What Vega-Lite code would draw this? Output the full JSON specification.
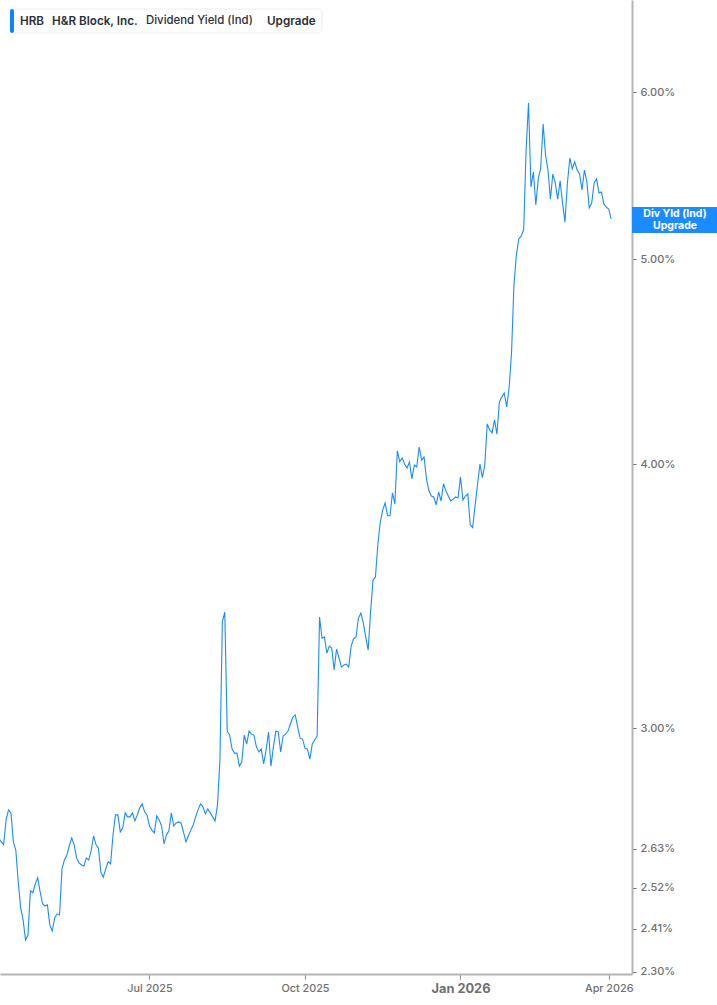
{"$schema":"https://vega.github.io/schema/vega-lite/v6.json","width":632,"height":974,"autosize":"none","padding":{"left":0,"top":0,"right":85,"bottom":31},"background":"white","config":{"view":{"stroke":null},"font":"Inter"},
"datasets":{"series":[
{"session":0,"date":"2025-04-01","yield":2.661},{"session":1,"date":"2025-04-02","yield":2.650},{"session":2,"date":"2025-04-03","yield":2.642},{"session":3,"date":"2025-04-04","yield":2.714},{"session":4,"date":"2025-04-07","yield":2.744},{"session":5,"date":"2025-04-08","yield":2.735},{"session":6,"date":"2025-04-09","yield":2.650},{"session":7,"date":"2025-04-10","yield":2.626},{"session":8,"date":"2025-04-11","yield":2.537},{"session":9,"date":"2025-04-14","yield":2.466},{"session":10,"date":"2025-04-15","yield":2.434},{"session":11,"date":"2025-04-16","yield":2.381},{"session":12,"date":"2025-04-17","yield":2.394},{"session":13,"date":"2025-04-21","yield":2.512},{"session":14,"date":"2025-04-22","yield":2.507},{"session":15,"date":"2025-04-23","yield":2.531},{"session":16,"date":"2025-04-24","yield":2.548},{"session":17,"date":"2025-04-25","yield":2.510},{"session":18,"date":"2025-04-28","yield":2.477},{"session":19,"date":"2025-04-29","yield":2.471},{"session":20,"date":"2025-04-30","yield":2.474},
{"session":21,"date":"2025-05-01","yield":2.420},{"session":22,"date":"2025-05-02","yield":2.405},{"session":23,"date":"2025-05-05","yield":2.439},{"session":24,"date":"2025-05-06","yield":2.450},{"session":25,"date":"2025-05-07","yield":2.447},{"session":26,"date":"2025-05-08","yield":2.573},{"session":27,"date":"2025-05-09","yield":2.598},{"session":28,"date":"2025-05-12","yield":2.612},{"session":29,"date":"2025-05-13","yield":2.638},{"session":30,"date":"2025-05-14","yield":2.661},{"session":31,"date":"2025-05-15","yield":2.642},{"session":32,"date":"2025-05-16","yield":2.604},{"session":33,"date":"2025-05-19","yield":2.590},{"session":34,"date":"2025-05-20","yield":2.584},{"session":35,"date":"2025-05-21","yield":2.581},{"session":36,"date":"2025-05-22","yield":2.604},{"session":37,"date":"2025-05-23","yield":2.598},{"session":38,"date":"2025-05-27","yield":2.624},{"session":39,"date":"2025-05-28","yield":2.667},{"session":40,"date":"2025-05-29","yield":2.642},{"session":41,"date":"2025-05-30","yield":2.632},
{"session":42,"date":"2025-06-02","yield":2.564},{"session":43,"date":"2025-06-03","yield":2.550},{"session":44,"date":"2025-06-04","yield":2.573},{"session":45,"date":"2025-06-05","yield":2.593},{"session":46,"date":"2025-06-06","yield":2.587},{"session":47,"date":"2025-06-09","yield":2.670},{"session":48,"date":"2025-06-10","yield":2.729},{"session":49,"date":"2025-06-11","yield":2.729},{"session":50,"date":"2025-06-12","yield":2.679},{"session":51,"date":"2025-06-13","yield":2.690},{"session":52,"date":"2025-06-16","yield":2.735},{"session":53,"date":"2025-06-17","yield":2.723},{"session":54,"date":"2025-06-18","yield":2.723},{"session":55,"date":"2025-06-20","yield":2.735},{"session":56,"date":"2025-06-23","yield":2.711},{"session":57,"date":"2025-06-24","yield":2.729},{"session":58,"date":"2025-06-25","yield":2.750},{"session":59,"date":"2025-06-26","yield":2.762},{"session":60,"date":"2025-06-27","yield":2.738},{"session":61,"date":"2025-06-30","yield":2.729},
{"session":62,"date":"2025-07-01","yield":2.696},{"session":63,"date":"2025-07-02","yield":2.684},{"session":64,"date":"2025-07-03","yield":2.676},{"session":65,"date":"2025-07-07","yield":2.726},{"session":66,"date":"2025-07-08","yield":2.714},{"session":67,"date":"2025-07-09","yield":2.696},{"session":68,"date":"2025-07-10","yield":2.644},{"session":69,"date":"2025-07-11","yield":2.670},{"session":70,"date":"2025-07-14","yield":2.682},{"session":71,"date":"2025-07-15","yield":2.735},{"session":72,"date":"2025-07-16","yield":2.696},{"session":73,"date":"2025-07-17","yield":2.705},{"session":74,"date":"2025-07-18","yield":2.708},{"session":75,"date":"2025-07-21","yield":2.705},{"session":76,"date":"2025-07-22","yield":2.679},{"session":77,"date":"2025-07-23","yield":2.650},{"session":78,"date":"2025-07-24","yield":2.667},{"session":79,"date":"2025-07-25","yield":2.684},{"session":80,"date":"2025-07-28","yield":2.699},{"session":81,"date":"2025-07-29","yield":2.723},{"session":82,"date":"2025-07-30","yield":2.744},{"session":83,"date":"2025-07-31","yield":2.762},
{"session":84,"date":"2025-08-01","yield":2.753},{"session":85,"date":"2025-08-04","yield":2.732},{"session":86,"date":"2025-08-05","yield":2.747},{"session":87,"date":"2025-08-06","yield":2.735},{"session":88,"date":"2025-08-07","yield":2.723},{"session":89,"date":"2025-08-08","yield":2.711},{"session":90,"date":"2025-08-11","yield":2.759},{"session":91,"date":"2025-08-12","yield":2.897},{"session":92,"date":"2025-08-13","yield":3.367},{"session":93,"date":"2025-08-14","yield":3.404},{"session":94,"date":"2025-08-15","yield":2.990},{"session":95,"date":"2025-08-18","yield":2.977},{"session":96,"date":"2025-08-19","yield":2.932},{"session":97,"date":"2025-08-20","yield":2.919},{"session":98,"date":"2025-08-21","yield":2.919},{"session":99,"date":"2025-08-22","yield":2.878},{"session":100,"date":"2025-08-25","yield":2.891},{"session":101,"date":"2025-08-26","yield":2.977},{"session":102,"date":"2025-08-27","yield":2.948},{"session":103,"date":"2025-08-28","yield":2.990},{"session":104,"date":"2025-08-29","yield":2.980},
{"session":105,"date":"2025-09-02","yield":2.977},{"session":106,"date":"2025-09-03","yield":2.939},{"session":107,"date":"2025-09-04","yield":2.923},{"session":108,"date":"2025-09-05","yield":2.932},{"session":109,"date":"2025-09-08","yield":2.885},{"session":110,"date":"2025-09-09","yield":2.929},{"session":111,"date":"2025-09-10","yield":2.987},{"session":112,"date":"2025-09-11","yield":2.878},{"session":113,"date":"2025-09-12","yield":2.939},{"session":114,"date":"2025-09-15","yield":2.990},{"session":115,"date":"2025-09-16","yield":2.987},{"session":116,"date":"2025-09-17","yield":2.923},{"session":117,"date":"2025-09-18","yield":2.974},{"session":118,"date":"2025-09-19","yield":2.980},{"session":119,"date":"2025-09-22","yield":2.990},{"session":120,"date":"2025-09-23","yield":3.013},{"session":121,"date":"2025-09-24","yield":3.036},{"session":122,"date":"2025-09-25","yield":3.043},{"session":123,"date":"2025-09-26","yield":3.003},{"session":124,"date":"2025-09-29","yield":2.967},{"session":125,"date":"2025-09-30","yield":2.964},
{"session":126,"date":"2025-10-01","yield":2.935},{"session":127,"date":"2025-10-02","yield":2.932},{"session":128,"date":"2025-10-03","yield":2.900},{"session":129,"date":"2025-10-06","yield":2.948},{"session":130,"date":"2025-10-07","yield":2.961},{"session":131,"date":"2025-10-08","yield":2.974},{"session":132,"date":"2025-10-09","yield":3.386},{"session":133,"date":"2025-10-10","yield":3.309},{"session":134,"date":"2025-10-13","yield":3.313},{"session":135,"date":"2025-10-14","yield":3.255},{"session":136,"date":"2025-10-15","yield":3.280},{"session":137,"date":"2025-10-16","yield":3.273},{"session":138,"date":"2025-10-17","yield":3.196},{"session":139,"date":"2025-10-20","yield":3.270},{"session":140,"date":"2025-10-21","yield":3.238},{"session":141,"date":"2025-10-22","yield":3.206},{"session":142,"date":"2025-10-23","yield":3.213},{"session":143,"date":"2025-10-24","yield":3.216},{"session":144,"date":"2025-10-27","yield":3.206},{"session":145,"date":"2025-10-28","yield":3.280},{"session":146,"date":"2025-10-29","yield":3.306},{"session":147,"date":"2025-10-30","yield":3.313},{"session":148,"date":"2025-10-31","yield":3.382},
{"session":149,"date":"2025-11-03","yield":3.400},{"session":150,"date":"2025-11-04","yield":3.364},{"session":151,"date":"2025-11-05","yield":3.313},{"session":152,"date":"2025-11-06","yield":3.266},{"session":153,"date":"2025-11-07","yield":3.404},{"session":154,"date":"2025-11-10","yield":3.525},{"session":155,"date":"2025-11-11","yield":3.537},{"session":156,"date":"2025-11-12","yield":3.666},{"session":157,"date":"2025-11-13","yield":3.756},{"session":158,"date":"2025-11-14","yield":3.805},{"session":159,"date":"2025-11-17","yield":3.834},{"session":160,"date":"2025-11-18","yield":3.781},{"session":161,"date":"2025-11-19","yield":3.781},{"session":162,"date":"2025-11-20","yield":3.876},{"session":163,"date":"2025-11-21","yield":3.830},{"session":164,"date":"2025-11-24","yield":4.058},{"session":165,"date":"2025-11-25","yield":4.010},{"session":166,"date":"2025-11-26","yield":4.027},{"session":167,"date":"2025-11-28","yield":4.000},
{"session":168,"date":"2025-12-01","yield":3.983},{"session":169,"date":"2025-12-02","yield":4.009},{"session":170,"date":"2025-12-03","yield":3.936},{"session":171,"date":"2025-12-04","yield":3.996},{"session":172,"date":"2025-12-05","yield":3.987},{"session":173,"date":"2025-12-08","yield":4.075},{"session":174,"date":"2025-12-09","yield":4.017},{"session":175,"date":"2025-12-10","yield":4.031},{"session":176,"date":"2025-12-11","yield":3.936},{"session":177,"date":"2025-12-12","yield":3.885},{"session":178,"date":"2025-12-15","yield":3.863},{"session":179,"date":"2025-12-16","yield":3.859},{"session":180,"date":"2025-12-17","yield":3.826},{"session":181,"date":"2025-12-18","yield":3.880},{"session":182,"date":"2025-12-19","yield":3.842},{"session":183,"date":"2025-12-22","yield":3.915},{"session":184,"date":"2025-12-23","yield":3.885},{"session":185,"date":"2025-12-24","yield":3.863},{"session":186,"date":"2025-12-26","yield":3.842},{"session":187,"date":"2025-12-29","yield":3.850},{"session":188,"date":"2025-12-30","yield":3.859},{"session":189,"date":"2025-12-31","yield":3.855},
{"session":190,"date":"2026-01-02","yield":3.945},{"session":191,"date":"2026-01-05","yield":3.846},{"session":192,"date":"2026-01-06","yield":3.863},{"session":193,"date":"2026-01-07","yield":3.872},{"session":194,"date":"2026-01-08","yield":3.744},{"session":195,"date":"2026-01-09","yield":3.732},{"session":196,"date":"2026-01-12","yield":3.822},{"session":197,"date":"2026-01-13","yield":3.911},{"session":198,"date":"2026-01-14","yield":4.000},{"session":199,"date":"2026-01-15","yield":3.941},{"session":200,"date":"2026-01-16","yield":3.996},{"session":201,"date":"2026-01-20","yield":4.179},{"session":202,"date":"2026-01-21","yield":4.151},{"session":203,"date":"2026-01-22","yield":4.138},{"session":204,"date":"2026-01-23","yield":4.197},{"session":205,"date":"2026-01-26","yield":4.133},{"session":206,"date":"2026-01-27","yield":4.280},{"session":207,"date":"2026-01-28","yield":4.303},{"session":208,"date":"2026-01-29","yield":4.322},{"session":209,"date":"2026-01-30","yield":4.257},
{"session":210,"date":"2026-02-02","yield":4.346},{"session":211,"date":"2026-02-03","yield":4.515},{"session":212,"date":"2026-02-04","yield":4.862},{"session":213,"date":"2026-02-05","yield":5.024},{"session":214,"date":"2026-02-06","yield":5.112},{"session":215,"date":"2026-02-09","yield":5.129},{"session":216,"date":"2026-02-10","yield":5.162},{"session":217,"date":"2026-02-11","yield":5.633},{"session":218,"date":"2026-02-12","yield":5.929},{"session":219,"date":"2026-02-13","yield":5.410},{"session":220,"date":"2026-02-17","yield":5.499},{"session":221,"date":"2026-02-18","yield":5.305},{"session":222,"date":"2026-02-19","yield":5.458},{"session":223,"date":"2026-02-20","yield":5.523},{"session":224,"date":"2026-02-23","yield":5.795},{"session":225,"date":"2026-02-24","yield":5.602},{"session":226,"date":"2026-02-25","yield":5.511},{"session":227,"date":"2026-02-26","yield":5.339},{"session":228,"date":"2026-02-27","yield":5.487},
{"session":229,"date":"2026-03-02","yield":5.434},{"session":230,"date":"2026-03-03","yield":5.339},{"session":231,"date":"2026-03-04","yield":5.446},{"session":232,"date":"2026-03-05","yield":5.316},{"session":233,"date":"2026-03-06","yield":5.207},{"session":234,"date":"2026-03-09","yield":5.434},{"session":235,"date":"2026-03-10","yield":5.584},{"session":236,"date":"2026-03-11","yield":5.517},{"session":237,"date":"2026-03-12","yield":5.560},{"session":238,"date":"2026-03-13","yield":5.511},{"session":239,"date":"2026-03-16","yield":5.487},{"session":240,"date":"2026-03-17","yield":5.393},{"session":241,"date":"2026-03-18","yield":5.511},{"session":242,"date":"2026-03-19","yield":5.440},{"session":243,"date":"2026-03-20","yield":5.288},{"session":244,"date":"2026-03-23","yield":5.316},{"session":245,"date":"2026-03-24","yield":5.434},{"session":246,"date":"2026-03-25","yield":5.458},{"session":247,"date":"2026-03-26","yield":5.375},{"session":248,"date":"2026-03-27","yield":5.381},{"session":249,"date":"2026-03-30","yield":5.311},{"session":250,"date":"2026-03-31","yield":5.293},
{"session":251,"date":"2026-04-01","yield":5.282},{"session":252,"date":"2026-04-02","yield":5.225}
]},
"layer":[
{"data":{"name":"series"},"mark":{"type":"line","color":"#1a8cff","strokeWidth":1.1,"clip":true,"interpolate":"linear"},
"encoding":{
"x":{"field":"session","type":"quantitative","title":null,"scale":{"domain":[0.494,260.58],"nice":false,"zero":false},
"axis":{"values":[62,126,190,251],"labelExpr":"datum.value==62?'Jul 2025':datum.value==126?'Oct 2025':datum.value==190?'Jan 2026':'Apr 2026'","grid":false,"domainColor":"#b5b5b5","domainWidth":2,"tickColor":"#8a8a8a","tickSize":5,"tickWidth":1,"labelColor":"#6f6f6f","labelFont":"Inter","labelFontSize":{"condition":{"test":"datum.value==190","value":12.8},"value":10.8},"labelFontWeight":{"condition":{"test":"datum.value==190","value":700},"value":500},"labelPadding":3,"labelOverlap":false,"labelFlush":false}},
"y":{"field":"yield","type":"quantitative","title":null,"scale":{"type":"log","domain":[2.2945,6.633],"nice":false,"zero":false},
"axis":{"orient":"right","values":[2.3,2.41,2.52,2.63,3,4,5,6],"labelExpr":"format(datum.value,'.2f')+'%'","grid":false,"domainColor":"#b5b5b5","domainWidth":2,"tickColor":"#6f6f6f","tickSize":4,"tickWidth":1,"labelColor":"#6f6f6f","labelFont":"Inter","labelFontSize":11,"labelFontWeight":500,"labelPadding":4,"labelOverlap":false,"labelFlush":false}}}},
{"data":{"values":[{"session":260.58,"session2":295.56,"yield":5.146,"yield2":5.293}]},"mark":{"type":"rect","color":"#1a8cff","clip":false},"encoding":{"x":{"field":"session","type":"quantitative"},"x2":{"field":"session2"},"y":{"field":"yield","type":"quantitative"},"y2":{"field":"yield2"}}},
{"data":{"values":[{"session":278.27,"yield":5.253,"label":"Div Yld (Ind)"},{"session":278.27,"yield":5.185,"label":"Upgrade"}]},"mark":{"type":"text","color":"white","font":"Inter","fontSize":10.5,"fontWeight":700,"align":"center","baseline":"middle","clip":false},"encoding":{"x":{"field":"session","type":"quantitative"},"y":{"field":"yield","type":"quantitative"},"text":{"field":"label"}}},
{"data":{"values":[{"session":4.61,"session2":133.0,"yield":6.398,"yield2":6.568}]},"mark":{"type":"rect","fill":"white","stroke":"#ececec","strokeWidth":1,"cornerRadius":4},"encoding":{"x":{"field":"session","type":"quantitative"},"x2":{"field":"session2"},"y":{"field":"yield","type":"quantitative"},"y2":{"field":"yield2"}}},
{"data":{"values":[{"session":4.61,"session2":6.25,"yield":6.398,"yield2":6.568}]},"mark":{"type":"rect","color":"#0d84ff","cornerRadius":2},"encoding":{"x":{"field":"session","type":"quantitative"},"x2":{"field":"session2"},"y":{"field":"yield","type":"quantitative"},"y2":{"field":"yield2"}}},
{"data":{"values":[{"session":8.72,"yield":6.483,"label":"HRB"},{"session":21.89,"yield":6.483,"label":"H&R Block, Inc."},{"session":110.37,"yield":6.483,"label":"Upgrade"}]},"mark":{"type":"text","color":"#2a2e39","font":"Inter","fontSize":11.7,"fontWeight":600,"align":"left","baseline":"middle"},"encoding":{"x":{"field":"session","type":"quantitative"},"y":{"field":"yield","type":"quantitative"},"text":{"field":"label"}}},
{"data":{"values":[{"session":60.58,"yield":6.483,"label":"Dividend Yield (Ind)"}]},"mark":{"type":"text","color":"#2a2e39","font":"Inter","fontSize":11.4,"fontWeight":500,"align":"left","baseline":"middle"},"encoding":{"x":{"field":"session","type":"quantitative"},"y":{"field":"yield","type":"quantitative"},"text":{"field":"label"}}}
]}
